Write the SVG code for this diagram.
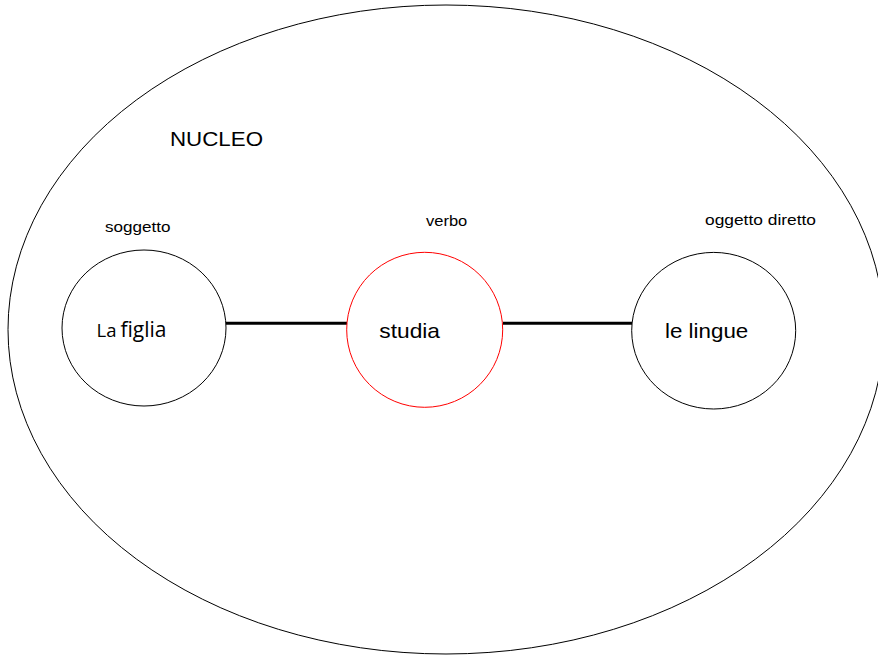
<svg xmlns="http://www.w3.org/2000/svg" width="878" height="655" viewBox="0 0 878 655">
<style>
.outline{fill:none;stroke:#000;stroke-width:1}
.node{fill:#fff;stroke:#000;stroke-width:1}
.verb{fill:#fff;stroke:#ff0000;stroke-width:1}
.conn{stroke:#000;stroke-width:3;fill:none}
.lbl{font-family:"Liberation Sans",Arial,sans-serif;fill:#000}
.os{font-family:"Open Sans","Noto Sans",sans-serif;fill:#000}
</style>
<rect width="878" height="655" fill="#fff"/>
<g id="nucleo">
<ellipse class="outline" cx="446" cy="329.5" rx="438" ry="324.5"/>
<text class="lbl" x="170" y="146" font-size="21" textLength="93" lengthAdjust="spacingAndGlyphs">NUCLEO</text>
</g>
<g id="connectors">
<line class="conn" x1="226" y1="323.3" x2="347" y2="323.3"/>
<line class="conn" x1="503" y1="323.3" x2="632" y2="323.3"/>
</g>
<g id="soggetto">
<ellipse class="node" cx="144" cy="328" rx="82" ry="78"/>
<text class="lbl" x="105" y="231.5" font-size="15" textLength="65.5" lengthAdjust="spacingAndGlyphs">soggetto</text>
<text class="os" y="336.5"><tspan x="96.5" font-size="18" textLength="20" lengthAdjust="spacingAndGlyphs">La</tspan><tspan x="120.5" font-size="21" textLength="46" lengthAdjust="spacingAndGlyphs">figlia</tspan></text>
</g>
<g id="verbo">
<ellipse class="verb" cx="424.7" cy="329.8" rx="78" ry="77.5"/>
<text class="lbl" x="426" y="225.5" font-size="15" textLength="41.3" lengthAdjust="spacingAndGlyphs">verbo</text>
<text class="lbl" x="379.3" y="338" font-size="21" textLength="60.7" lengthAdjust="spacingAndGlyphs">studia</text>
</g>
<g id="oggetto">
<ellipse class="node" cx="713.7" cy="330.7" rx="82" ry="78.3"/>
<text class="lbl" x="705" y="225" font-size="15" textLength="111" lengthAdjust="spacingAndGlyphs">oggetto diretto</text>
<text class="lbl" x="665" y="338" font-size="21" textLength="83.3" lengthAdjust="spacingAndGlyphs">le lingue</text>
</g>
</svg>
